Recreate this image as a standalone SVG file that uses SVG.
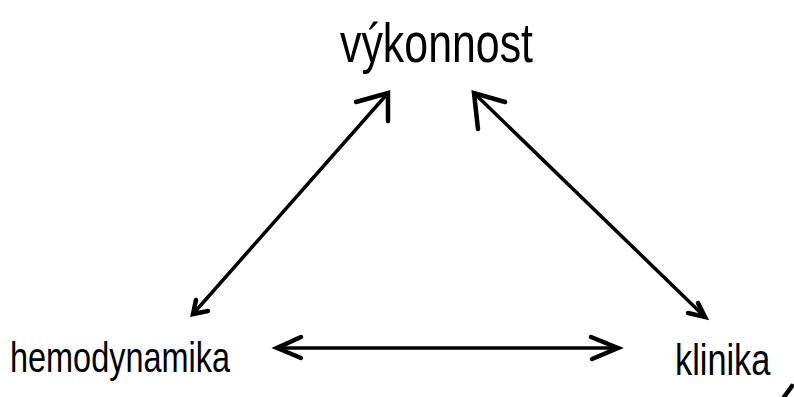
<svg xmlns="http://www.w3.org/2000/svg" width="794" height="397" viewBox="0 0 794 397">
  <style>
    .label { font-family: "Liberation Sans", "DejaVu Sans", sans-serif; fill: #000; }
    .conn { fill: none; stroke: #000; stroke-width: 3.5; stroke-linecap: round; stroke-linejoin: round; }
    .head { fill: none; stroke: #000; stroke-width: 4.5; stroke-linecap: round; stroke-linejoin: miter; }
  </style>
  <rect width="794" height="397" fill="#fff"/>

  <g id="vykonnost">
    <text class="label" x="340" y="62" font-size="56" textLength="193" lengthAdjust="spacingAndGlyphs">výkonnost</text>
  </g>
  <g id="hemodynamika">
    <text class="label" x="10" y="372" font-size="42" textLength="220" lengthAdjust="spacingAndGlyphs">hemodynamika</text>
  </g>
  <g id="klinika">
    <!-- narrow hand lettering: horizontally condensed -->
    <text class="label" transform="translate(675 375) scale(0.78 1)" font-size="44">klinika</text>
    <!-- trailing pen stroke after the word -->
    <path d="M792 386 L784 397" stroke="#000" stroke-width="4.5" stroke-linecap="round"/>
  </g>

  <g id="connectors">
    <!-- výkonnost <-> hemodynamika -->
    <path class="conn" d="M388 93 L193 314"/>
    <path class="head" d="M356 102 L388 93 L388 121"/>
    <path class="head" d="M196 300 L193 314 L208 311"/>
    <!-- výkonnost <-> klinika -->
    <path class="conn" d="M474 93 L705 317"/>
    <path class="head" d="M505 102 L474 93 L478 129"/>
    <path class="head" d="M698 303 L705 317 L688 313"/>
    <!-- hemodynamika <-> klinika -->
    <path class="conn" d="M277 348 L618 348"/>
    <path class="head" d="M301 337 L277 348 L301 358"/>
    <path class="head" d="M591 337 L618 348 L592 359"/>
  </g>
</svg>
